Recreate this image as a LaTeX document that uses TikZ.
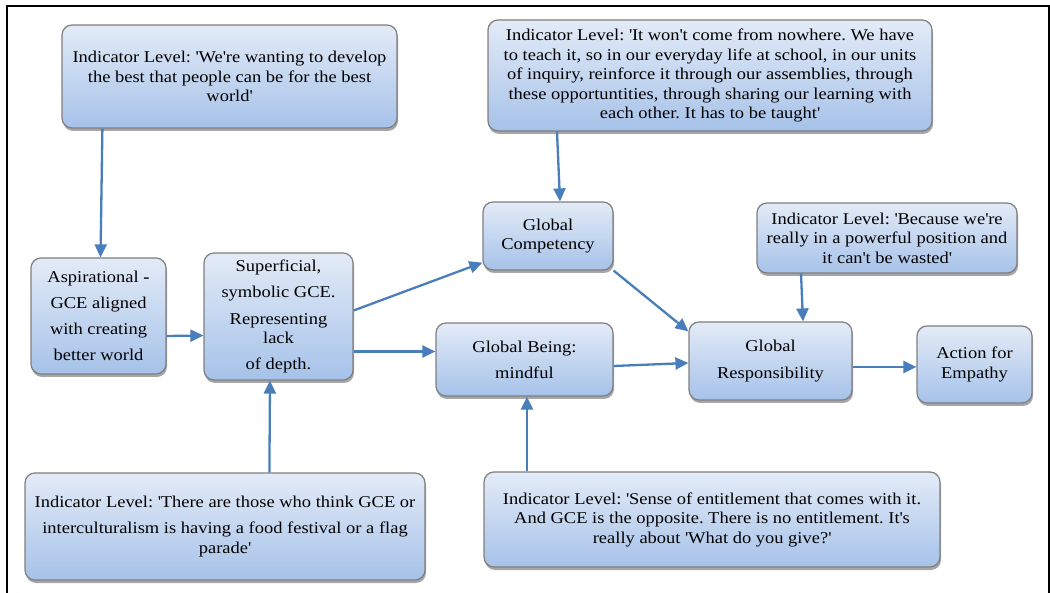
\documentclass[tikz,border=0pt]{standalone}
\usepackage{fontspec}
\setmainfont{Liberation Serif}[FakeStretch=1.12]
\usepackage{tikz}
\usetikzlibrary{arrows.meta,positioning,calc,shadows}
\definecolor{boxtop}{HTML}{E3EBF7}
\definecolor{boxbot}{HTML}{A6C2E9}
\definecolor{boxline}{HTML}{7F7F7F}
\definecolor{linkblue}{HTML}{4A7EBB}
\newcommand{\q}{\textquotesingle}
\frenchspacing

\begin{document}
\begin{tikzpicture}[x=1pt,y=-1pt,>={Triangle[length=13pt,width=12pt]},
 box/.style={draw=boxline,line width=1.2pt,top color=boxtop,bottom color=boxbot,
 rounded corners=10pt,align=center,inner sep=0pt,
 font=\fontsize{16.5}{19.5}\selectfont,
 drop shadow={shadow xshift=1pt,shadow yshift=-3pt,opacity=.35,fill=black}},
 quote/.style={box},
 link/.style={->,draw=linkblue,line width=2.3pt}]
\useasboundingbox (0,0) rectangle (1050,593);
\draw[line width=1.2pt] (7,593) -- (7,6) -- (1049,6) -- (1049,593);
% indicator quotes
\node[quote,minimum width=335pt,minimum height=103pt] (ind1) at (229.5,76.5)
 {Indicator Level: \q We\q re wanting to develop\\the best that people can be for the best\\world\q};
\node[quote,minimum width=444pt,minimum height=111pt] (ind3) at (710,75.5)
 {Indicator Level: \q It won\q t come from nowhere. We have\\to teach it, so in our everyday life at school, in our units\\of inquiry, reinforce it through our assemblies, through\\these opportuntities, through sharing our learning with\\each other. It has to be taught\q};
\node[quote,minimum width=260pt,minimum height=70pt] (ind5) at (887,238)
 {Indicator Level: \q Because we\q re\\really in a powerful position and\\it can\q t be wasted\q};
\node[quote,minimum width=400pt,minimum height=107pt] (ind2) at (225,526.5)
 {Indicator Level: \q There are those who think GCE or\\[7pt]interculturalism is having a food festival or a flag\\parade\q};
\node[quote,minimum width=456pt,minimum height=95pt] (ind4) at (712,519.5)
 {Indicator Level: \q Sense of entitlement that comes with it.\\And GCE is the opposite. There is no entitlement. It\q s\\really about \q What do you give?\q};
% main chain
\node[box,minimum width=135pt,minimum height=116pt] (asp) at (98.5,316)
 {Aspirational \textbf{-}\\[6.5pt]GCE aligned\\[6.5pt]with creating\\[6.5pt]better world};
\node[box,minimum width=149pt,minimum height=127pt] (sup) at (278.5,316.5)
 {Superficial,\\[6.5pt]symbolic GCE.\\[7pt]Representing\\lack\\[6.5pt]of depth.};
\node[box,minimum width=130pt,minimum height=68pt] (gc) at (548,236)
 {Global\\Competency};
\node[box,minimum width=177pt,minimum height=73pt] (gb) at (524.5,359.5)
 {Global Being:\\[6.5pt]mindful};
\node[box,minimum width=163pt,minimum height=78pt] (gr) at (770.5,361)
 {Global\\[7pt]Responsibility};
\node[box,minimum width=115pt,minimum height=77pt] (ae) at (974.5,364.5)
 {Action for\\Empathy};
% connectors
\draw[link] ([xshift=41pt]ind1.south west) -- ([xshift=2pt]asp.north);
\draw[link] ([yshift=-20pt]asp.east) -- ([yshift=-19pt]sup.west);
\draw[link] ([xshift=245pt]ind2.north west) -- ([xshift=-8.5pt]sup.south);
\draw[link] ([yshift=6pt]sup.east) -- ([yshift=8pt]gc.south west);
\draw[link] ([yshift=-35pt]sup.east) -- ([yshift=8pt]gb.west);
\draw[link] ([xshift=-153pt]ind3.south) -- ([xshift=12pt]gc.north);
\draw[link] (gc.south east) -- ([yshift=-10pt]gr.north west);
\draw[link] ([yshift=-6.5pt]gb.east) -- ([yshift=-2pt]gr.west);
\draw[link] ([xshift=-185pt]ind4.north) -- ([xshift=2.5pt]gb.south);
\draw[link] ([xshift=-86pt]ind5.south) -- ([xshift=32.5pt]gr.north);
\draw[link] ([yshift=-6pt]gr.east) -- ([yshift=-2.5pt]ae.west);
\end{tikzpicture}
\end{document}
